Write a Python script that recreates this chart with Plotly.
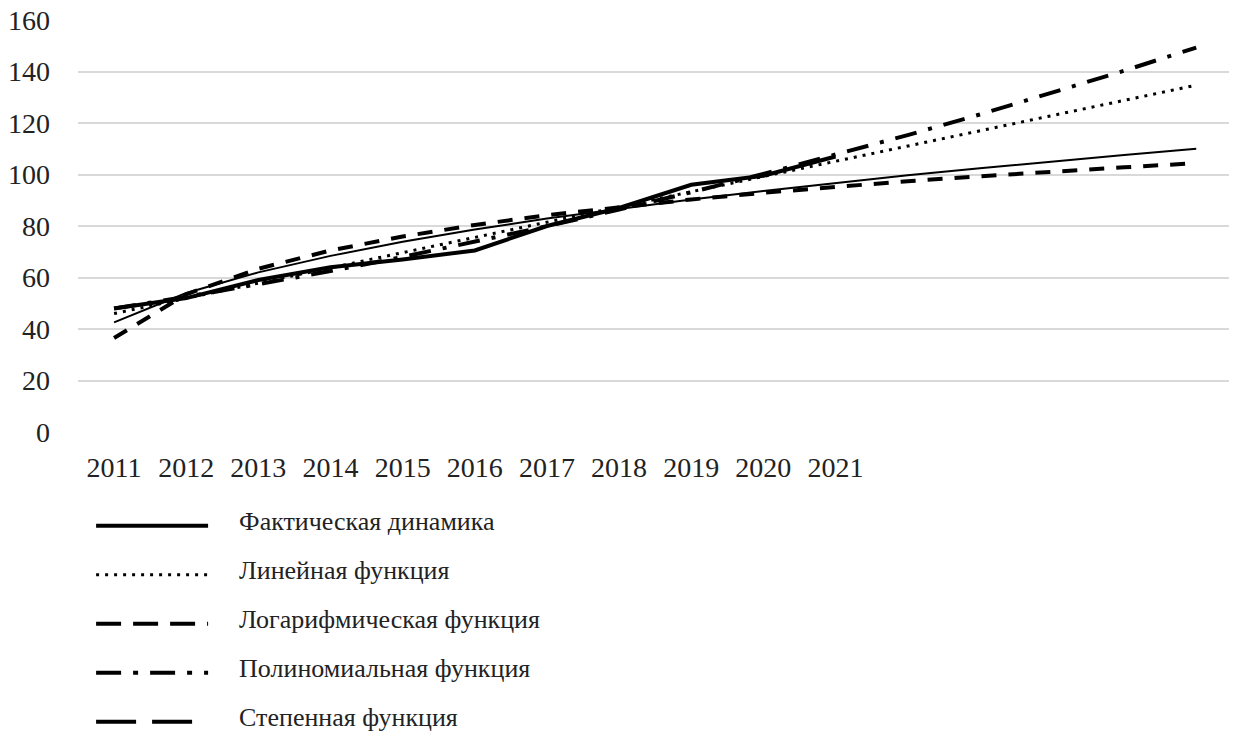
import plotly.graph_objects as go

# годы: факт 2011-2021, тренды с прогнозом до 2026
years_fact = [2011, 2012, 2013, 2014, 2015, 2016, 2017, 2018, 2019, 2020, 2021]
years_trend = [2011, 2012, 2013, 2014, 2015, 2016, 2017, 2018, 2019, 2020, 2021,
               2022, 2023, 2024, 2025, 2026]
tick_years = years_fact

fact = [48, 52, 59, 64, 67, 70.5, 80, 87, 96, 99.5, 107]
linear = [46, 51.9, 57.8, 63.7, 69.6, 75.6, 81.5, 87.4, 93.3, 99.2, 105.1,
          111, 116.9, 122.8, 128.8, 134.7]
log_fn = [36.5, 53.5, 63.4, 70.5, 75.9, 80.4, 84.2, 87.4, 90.3, 92.9, 95.3,
          97.4, 99.3, 101.2, 102.8, 104.4]
poly = [48, 52.5, 57.4, 62.5, 68, 73.8, 79.9, 86.4, 93.1, 100.2, 107.6,
        115.3, 123.3, 131.7, 140.3, 149.3]
power = [42.6, 54, 62, 68.4, 73.9, 78.6, 82.9, 86.7, 90.3, 93.6, 96.7,
         99.7, 102.4, 105.1, 107.6, 110]

FONT = "'Liberation Serif', 'Times New Roman', 'DejaVu Serif', serif"
PAD = "\u00a0" * 4  # отступ текста легенды от образца линии


def legend_label(text):
    # крупный текст при компактной высоте строки легенды
    return '<span style="font-size:26px">' + PAD + text + "</span>"


fig = go.Figure()

series = [
    ("Фактическая динамика", years_fact, fact, dict(color="black", width=4)),
    ("Линейная функция", years_trend, linear, dict(color="black", width=3, dash="3px,6px")),
    ("Логарифмическая функция", years_trend, log_fn, dict(color="black", width=4, dash="15px,12px")),
    ("Полиномиальная функция", years_trend, poly, dict(color="black", width=4, dash="22px,12px,4px,12px")),
    ("Степенная функция", years_trend, power, dict(color="black", width=2)),
]

for name, xs, ys, line in series:
    fig.add_trace(go.Scatter(x=xs, y=ys, mode="lines", name=name, line=line,
                             legendgroup=name, showlegend=False))

# легенда: образцы линий как в исходнике
legend_lines = [
    dict(color="black", width=4),
    dict(color="black", width=3, dash="3px,6px"),
    dict(color="black", width=4, dash="25px,12px"),
    dict(color="black", width=4, dash="25px,12px,5px,12px"),
    dict(color="black", width=4, dash="40px,16px"),
]
for (name, _, _, _), line in zip(series, legend_lines):
    fig.add_trace(go.Scatter(x=[None], y=[None], mode="lines", name=legend_label(name),
                             line=line, legendgroup=name))

fig.update_layout(
    width=1237, height=737,
    margin=dict(l=70, r=8, t=12, b=308),
    plot_bgcolor="white", paper_bgcolor="white",
    font=dict(family=FONT, size=28, color="#222"),
    showlegend=True,
    legend=dict(
        orientation="v", x=0.0113, xanchor="left", y=-0.7386, yanchor="bottom",
        itemwidth=112, tracegroupgap=30, traceorder="grouped",
        font=dict(family=FONT, size=12, color="#222"),
    ),
    xaxis=dict(
        range=[2010.5, 2026.565], tickvals=tick_years,
        ticktext=[str(y) for y in tick_years], tickangle=0, automargin=False,
        showgrid=False, zeroline=False, showline=False, ticklabelstandoff=16,
    ),
    yaxis=dict(
        range=[0, 160], dtick=20, showgrid=True, gridcolor="#d9d9d9", gridwidth=1.5,
        zeroline=False, showline=False, ticklabelstandoff=27,
        ticklabeloverflow="allow", automargin=False,
    ),
)

fig.write_html("out.html")
